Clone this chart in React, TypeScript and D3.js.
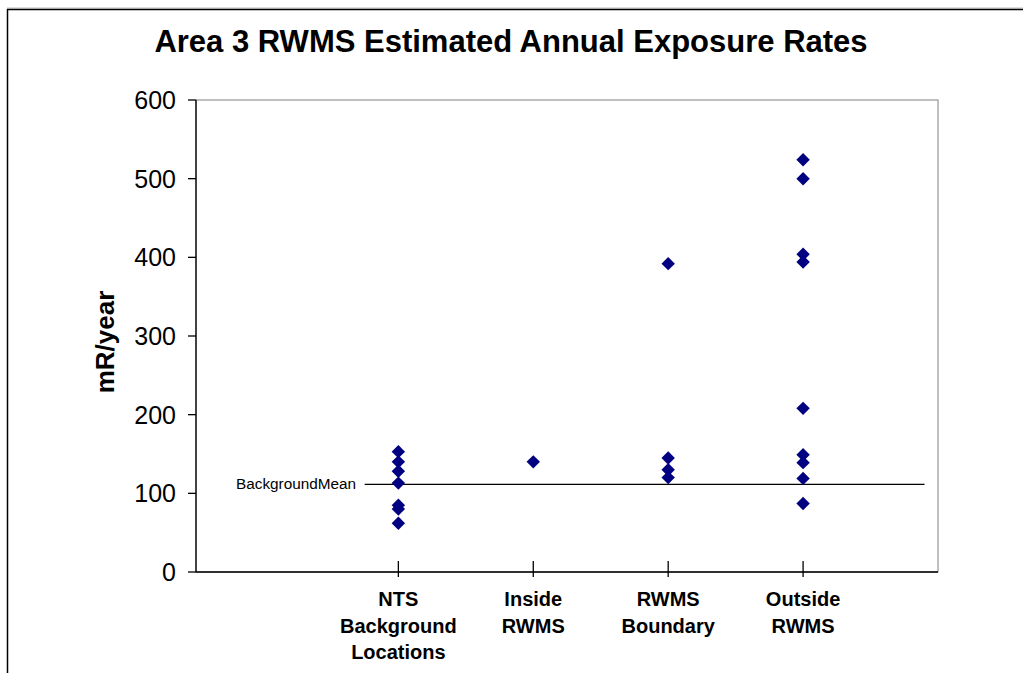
import React from "react";
import * as d3 from "d3";

const categories = ["NTS\nBackground\nLocations", "Inside\nRWMS", "RWMS\nBoundary", "Outside\nRWMS"];
const categoryPos = [1.5, 2.5, 3.5, 4.5];
const ntsValues = [153, 140, 128, 113, 85, 80, 62];
const insideValues = [140];
const boundaryValues = [392, 145, 130, 120];
const outsideValues = [524, 500, 404, 394, 208, 149, 139, 119, 87];
const seriesValues = [ntsValues, insideValues, boundaryValues, outsideValues];
const backgroundMean = 111.5;
const meanLineX = [1.25, 5.4];
const yTicks = [0, 100, 200, 300, 400, 500, 600];

const W = 1023;
const H = 673;
const L = 196, R = 938, T = 100, B = 572;

export default function App() {
  const x = d3.scaleLinear().domain([0, 5.5]).range([L, R]);
  const y = d3.scaleLinear().domain([0, 600]).range([B, T]);
  const diamond = d3.symbol().type(d3.symbolSquare).size(90)() as string;
  const font = "Liberation Sans, Arial, sans-serif";

  return (
    <svg width={W} height={H} style={{ position: "absolute", left: 0, top: 0, background: "#fff" }} fontFamily={font}>
      <rect x={0} y={0} width={W} height={H} fill="#fff" />
      {/* outer chart frame */}
      <line x1={7} y1={8} x2={W} y2={8} stroke="#bbb" strokeWidth={1} />
      <line x1={7} y1={9.5} x2={W} y2={9.5} stroke="#000" strokeWidth={1.5} />
      <line x1={7.5} y1={9} x2={7.5} y2={H} stroke="#000" strokeWidth={1.5} />

      <text x={511} y={52} textAnchor="middle" fontSize={31} fontWeight="bold">
        Area 3 RWMS Estimated Annual Exposure Rates
      </text>

      {/* plot area border */}
      <rect x={L} y={T} width={R - L} height={B - T} fill="none" stroke="#808080" strokeWidth={1} />
      {/* axes */}
      <line x1={L} y1={T} x2={L} y2={B} stroke="#000" strokeWidth={1.3} />
      <line x1={L} y1={B} x2={R} y2={B} stroke="#000" strokeWidth={1.3} />

      {yTicks.map((t) => (
        <g key={t}>
          <line x1={188} x2={L} y1={y(t)} y2={y(t)} stroke="#000" strokeWidth={1.3} />
          <text x={176} y={y(t)} dy="0.36em" textAnchor="end" fontSize={25}>
            {t}
          </text>
        </g>
      ))}

      <text
        transform={`translate(114, ${(T + B) / 2 + 6}) rotate(-90)`}
        textAnchor="middle"
        fontSize={26}
        fontWeight="bold"
      >
        mR/year
      </text>

      {categoryPos.map((p, i) => (
        <g key={i}>
          <line x1={x(p)} x2={x(p)} y1={B - 11} y2={B + 5} stroke="#000" strokeWidth={1.3} />
          {categories[i].split("\n").map((ln, j) => (
            <text key={j} x={x(p)} y={606 + j * 26.5} textAnchor="middle" fontSize={20} fontWeight="bold">
              {ln}
            </text>
          ))}
        </g>
      ))}

      {/* background mean */}
      <line
        x1={x(meanLineX[0])}
        x2={x(meanLineX[1])}
        y1={y(backgroundMean)}
        y2={y(backgroundMean)}
        stroke="#000"
        strokeWidth={1.3}
      />
      <text
        x={356}
        y={y(backgroundMean) + 5}
        textAnchor="end"
        fontSize={14}
        textLength={120}
        lengthAdjust="spacingAndGlyphs"
      >
        BackgroundMean
      </text>

      {seriesValues.map((vals, i) =>
        vals.map((v, j) => (
          <path
            key={`${i}-${j}`}
            d={diamond}
            transform={`translate(${x(categoryPos[i])}, ${y(v)}) rotate(45)`}
            fill="#000080"
          />
        ))
      )}
    </svg>
  );
}
